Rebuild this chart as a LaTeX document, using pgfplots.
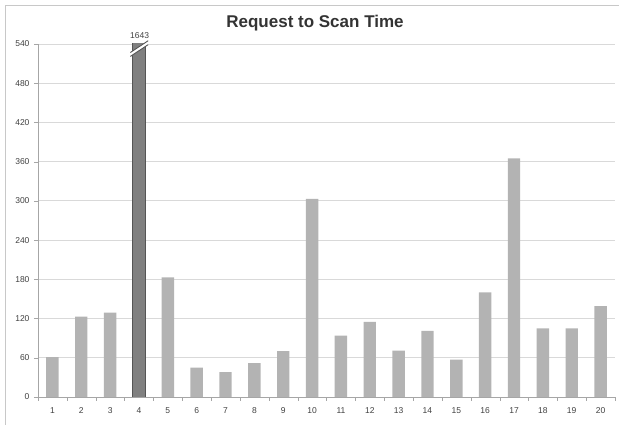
\documentclass[border=0pt]{standalone}
\usepackage{pgfplots}
\pgfplotsset{compat=1.18}
\usepackage{fontspec}
\setmainfont{Liberation Sans}
\definecolor{barlight}{HTML}{B3B3B3}
\definecolor{bardark}{HTML}{808080}
\definecolor{bardarkline}{HTML}{555555}
\definecolor{gridc}{HTML}{D9D9D9}
\definecolor{framec}{HTML}{C8C8C8}
\definecolor{axisc}{HTML}{A6A6A6}
\definecolor{tickc}{HTML}{404040}
\definecolor{titlec}{HTML}{333333}
\begin{document}
\begin{tikzpicture}
\begin{axis}[
  at={(0pt,0pt)}, anchor=south west,
  scale only axis,
  width=577pt, height=353pt,
  xmin=0.5, xmax=20.5,
  ymin=0, ymax=540,
  ytick={0,60,...,540},
  xtick={1,...,20},
  minor xtick={0.5,1.5,...,20.5},
  major x tick style={draw=none},
  minor x tick style={draw=axisc},
  y tick style={draw=axisc},
  tick align=outside,
  major tick length=4pt,
  minor tick length=4pt,
  axis x line*=bottom,
  axis y line*=left,
  axis line style={draw=axisc, -},
  ymajorgrids,
  grid style={draw=gridc, line width=0.8pt},
  ticklabel style={font=\fontsize{8.5}{10}\selectfont, text=tickc},
  /pgf/number format/assume math mode=true,
  xticklabel style={yshift=-3pt},
  yticklabel style={xshift=-1pt},
  ybar, bar width=0.43,
  bar shift=0pt,
]
\addplot[fill=barlight, draw=none] coordinates {
(1,61) (2,123) (3,129) (5,183) (6,45) (7,38) (8,52) (9,70) (10,303)
(11,94) (12,115) (13,71) (14,101) (15,57) (16,160) (17,365) (18,105) (19,105) (20,139)
};
\addplot[fill=bardark, draw=bardarkline, line width=0.8pt] coordinates {(4,1643)};
\coordinate (b1) at (axis cs:3.70,521);
\coordinate (b2) at (axis cs:4.32,539);
\coordinate (b3) at (axis cs:3.70,527);
\coordinate (b4) at (axis cs:4.32,545);
\coordinate (lab) at (axis cs:4.02,547);
\end{axis}
\fill[white] (b1) -- (b2) -- (b4) -- (b3) -- cycle;
\draw[bardarkline, line width=0.9pt] (b1) -- (b2);
\draw[bardarkline, line width=0.9pt] (b3) -- (b4);
\node[font=\fontsize{8.5}{10}\selectfont, text=tickc, anchor=south, inner sep=1pt] at (lab) {1643};
\node[font=\fontsize{17}{20}\selectfont\bfseries, text=titlec, anchor=base] at (277pt,369pt) {Request to Scan Time};
\draw[framec, line width=1pt] (-32pt,-28pt) -- (-32pt,391pt) -- (581pt,391pt);
\pgfresetboundingbox
\path[use as bounding box] (-38pt,-28pt) rectangle (581pt,397pt);
\end{tikzpicture}
\end{document}
